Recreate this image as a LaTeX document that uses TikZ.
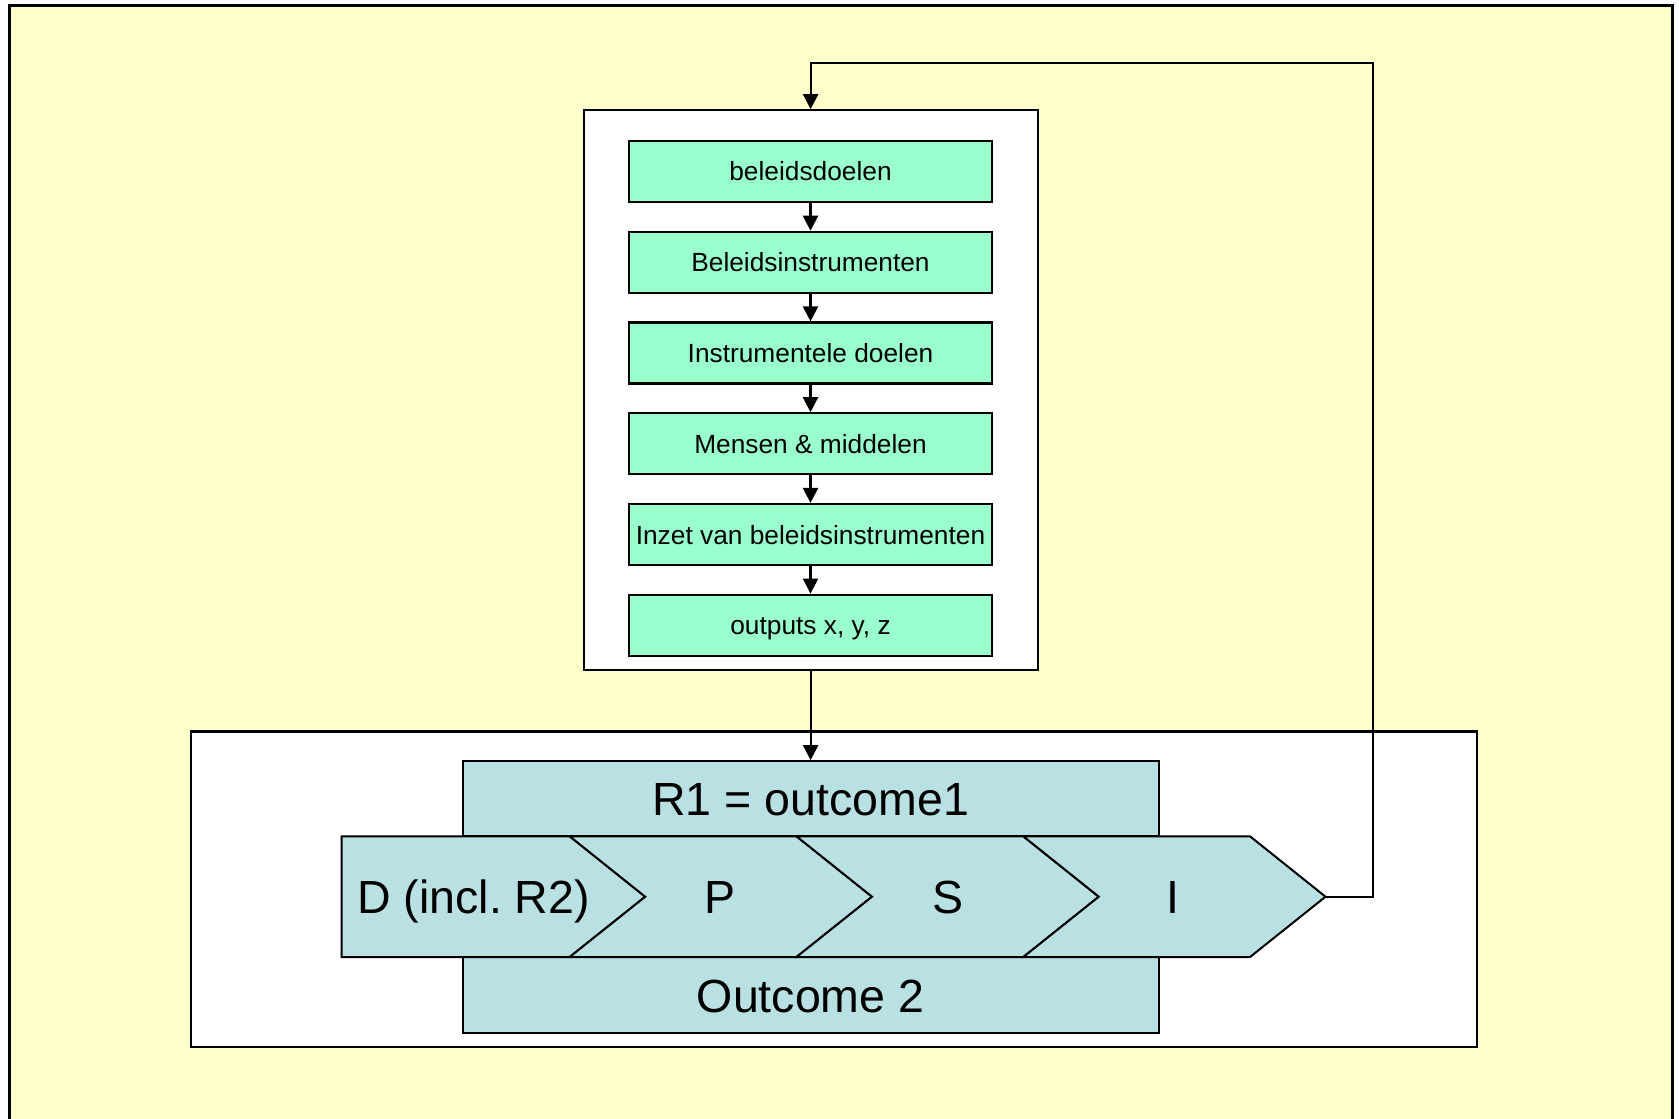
\documentclass[tikz,border=0pt]{standalone}
\usepackage{fontspec}
\setmainfont{Liberation Sans}
\usetikzlibrary{arrows.meta}
\frenchspacing
\definecolor{bgyellow}{HTML}{FFFFCC}
\definecolor{stepgreen}{HTML}{99FFCC}
\definecolor{teal}{HTML}{B9E0E3}
\tikzset{
  arr/.style={line width=1.1pt,-{Triangle[length=7.5pt,width=7.5pt]}},
  greenbox/.style={draw,line width=1.1pt,fill=stepgreen,minimum width=181.5pt,minimum height=30.5pt,
    inner sep=0pt,font=\fontsize{13.15pt}{15pt}\selectfont,text height=9.5pt,text depth=0pt},
  whitebox/.style={draw,line width=1.1pt,fill=white,inner sep=0pt},
  tealbox/.style={draw,line width=1.1pt,fill=teal,inner sep=0pt,minimum width=348pt,
    font=\fontsize{23.25pt}{26pt}\selectfont,text height=16.7pt,text depth=0pt},
  chev/.style={draw,line width=1pt,fill=teal,line join=miter},
  chevtext/.style={inner sep=0pt,font=\fontsize{23.25pt}{26pt}\selectfont,text height=16.7pt,text depth=0pt}
}
\begin{document}
\begin{tikzpicture}[x=0.5pt,y=-0.5pt]
\useasboundingbox (0,0) rectangle (1679,1118);
\fill[white] (0,0) rectangle (1679,1118);
\begin{scope}
\clip (0,0) rectangle (1679,1118);
\draw[line width=1.4pt,fill=bgyellow] (9.5,5.5) rectangle (1672.5,1130);
\end{scope}
% top box
\node[whitebox,minimum width=227pt,minimum height=280pt] (topbox) at (810.6,390.3) {};
\node[greenbox] (g1) at (810.5,171.5) {beleidsdoelen};
\node[greenbox] (g2) at (810.5,262.3) {Beleidsinstrumenten};
\node[greenbox] (g3) at (810.5,353.0) {Instrumentele doelen};
\node[greenbox] (g4) at (810.5,443.8) {Mensen \& middelen};
\node[greenbox] (g5) at (810.5,534.5) {Inzet van beleidsinstrumenten};
\node[greenbox] (g6) at (810.5,625.2) {outputs x, y, z};
\foreach \a/\b in {g1/g2,g2/g3,g3/g4,g4/g5,g5/g6}
  \draw[arr] (\a.south) -- (\b.north);
% bottom box
\node[whitebox,minimum width=643pt,minimum height=157.9pt] (botbox) at (833.6,889.3) {};
\node[tealbox,minimum height=37.5pt] (r1) at (810.6,798.8) {R1 = outcome1};
\node[tealbox,minimum height=38pt] (out2) at (810.6,995.3) {Outcome 2};
% chevrons
\def\yt{836.3}\def\ym{896.7}\def\yb{957}
\draw[chev] (341.6,\yt) -- (569.7,\yt) -- (645.2,\ym) -- (569.7,\yb) -- (341.6,\yb) -- cycle;
\draw[chev] (569.7,\yt) -- (796.5,\yt) -- (872,\ym) -- (796.5,\yb) -- (569.7,\yb) -- (645.2,\ym) -- cycle;
\draw[chev] (796.5,\yt) -- (1023.3,\yt) -- (1098.8,\ym) -- (1023.3,\yb) -- (796.5,\yb) -- (872,\ym) -- cycle;
\draw[chev] (1023.3,\yt) -- (1250,\yt) -- (1325.5,\ym) -- (1250,\yb) -- (1023.3,\yb) -- (1098.8,\ym) -- cycle;
\node[chevtext] (cd) at (473.7,\ym) {D (incl. R2)};
\node[chevtext] (cp) at (720,\ym) {P};
\node[chevtext] (cs) at (947.5,\ym) {S};
\node[chevtext] (ci) at (1173,\ym) {I};
\coordinate (itip) at (1325.5,\ym);
\coordinate (fbr) at (1373,63);
% connectors
\draw[arr] (topbox.south) -- (r1.north);
\draw[arr] (itip) -| (fbr) -| (topbox.north);
\end{tikzpicture}
\end{document}
